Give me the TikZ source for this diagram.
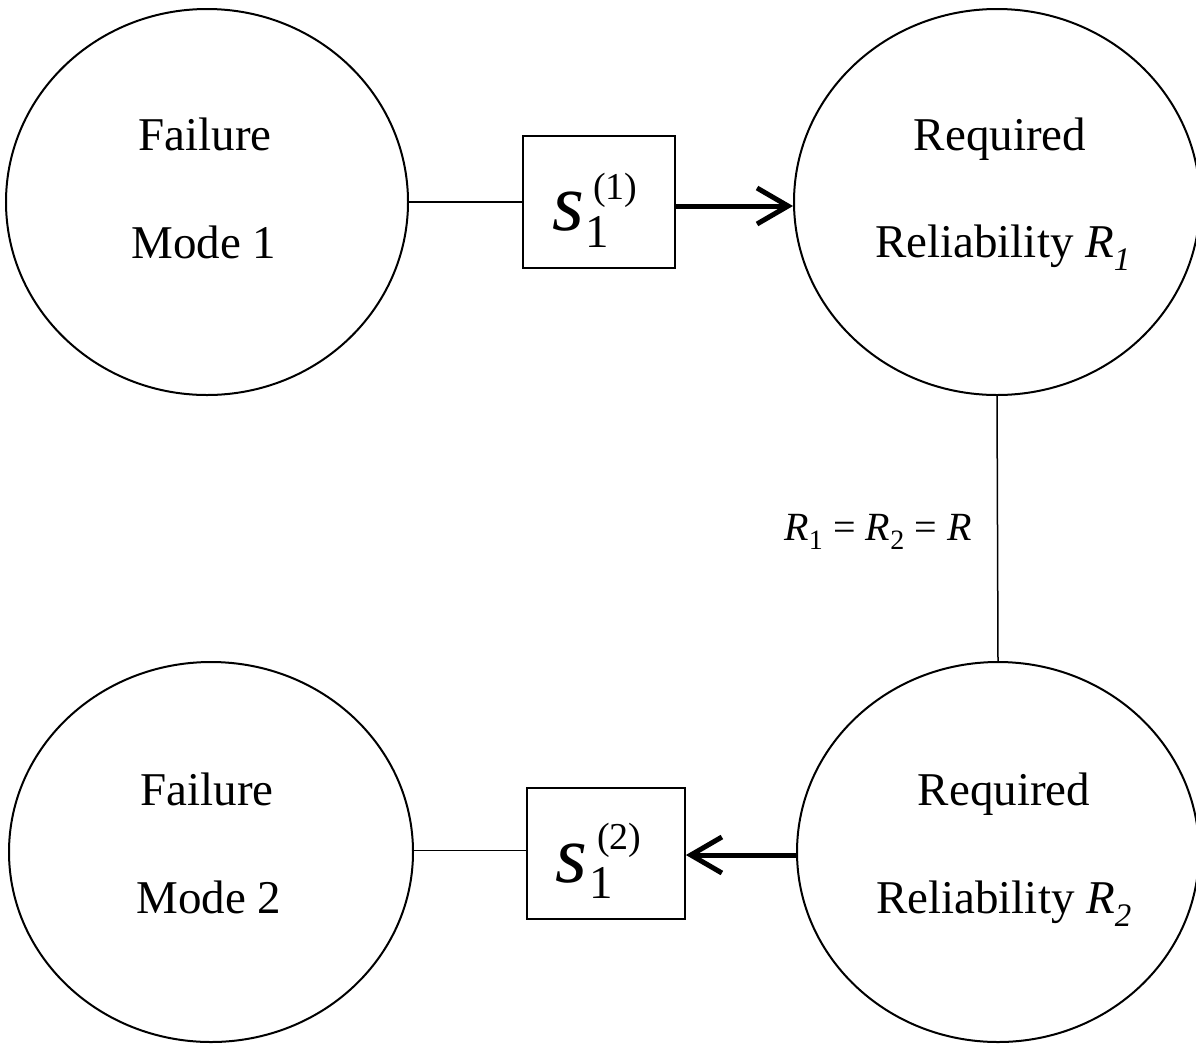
\documentclass[tikz,border=0pt]{standalone}
\usepackage{fontspec}
\setmainfont{Liberation Serif}
\usetikzlibrary{shapes.geometric,arrows.meta}
\tikzset{
  circ/.style={draw, ellipse, line width=2pt, inner sep=0pt},
  boxn/.style={draw, rectangle, line width=1.8pt, inner sep=0pt},
  lbl/.style={anchor=base, inner sep=0pt, font=\fontsize{47}{47}\selectfont},
  thin/.style={line width=1.5pt},
  arr/.style={line width=5pt, -{Straight Barb[length=31pt,width=36pt]}},
  sym/.style={anchor=base west, inner sep=0pt}
}
\begin{document}
\begin{tikzpicture}[x=1pt,y=-1pt]
\useasboundingbox (0,0) rectangle (1196,1045);
% circles
\node[circ, minimum width=402pt, minimum height=386pt] (tl) at (207,202) {};
\node[circ, minimum width=406pt, minimum height=386pt] (tr) at (997,202) {};
\node[circ, minimum width=404pt, minimum height=380pt] (bl) at (211,852) {};
\node[circ, minimum width=402pt, minimum height=380pt] (br) at (998,852) {};
% boxes
\node[boxn, minimum width=152pt, minimum height=132pt] (b1) at (599,202) {};
\node[boxn, minimum width=158pt, minimum height=131pt] (b2) at (606,853.5) {};
% circle texts
\node[lbl] (t1) at (205,150) {Failure};
\node[lbl] (t2) at (204,258) {Mode 1};
\node[lbl] (t3) at (1000,150) {Required};
\node[lbl] (t4) at (1003,257) {Reliability \textit{R\textsubscript{1}}};
\node[lbl] (t5) at (207,805) {Failure};
\node[lbl] (t6) at (209,913) {Mode 2};
\node[lbl] (t7) at (1004,805) {Required};
\node[lbl] (t8) at (1004,913) {Reliability \textit{R\textsubscript{2}}};
% box symbols
\node[sym, font=\fontsize{82}{82}\selectfont\itshape] (s1) at (552,230) {s};
\node[sym, font=\fontsize{47}{47}\selectfont] (s1b) at (585,247) {1};
\node[sym, font=\fontsize{38}{38}\selectfont] (s1c) at (593,199) {(1)};
\node[sym, font=\fontsize{82}{82}\selectfont\itshape] (s2) at (555,882) {s};
\node[sym, font=\fontsize{47}{47}\selectfont] (s2b) at (589,898) {1};
\node[sym, font=\fontsize{38}{38}\selectfont] (s2c) at (597,849) {(2)};
% connectors
\draw[thin] (tl.east) -- (b1.west);
\draw[arr] ([yshift=-4pt]b1.east) -- ([yshift=-4pt]b1.east -| tr.west);
\draw[thin] (tr.south) -- (br.north);
\draw[arr] ([yshift=-3pt]br.west) -- ([yshift=-3pt]br.west -| b2.east);
\draw[thin] ([yshift=3pt]b2.west) -- ([yshift=3pt]b2.west -| bl.east);
% equality label
\node[anchor=base east, inner sep=0pt, font=\fontsize{40}{40}\selectfont] (eq) at (972,540)
  {\textit{R}\textsubscript{1} = \textit{R}\textsubscript{2} = \textit{R}};
\end{tikzpicture}
\end{document}
